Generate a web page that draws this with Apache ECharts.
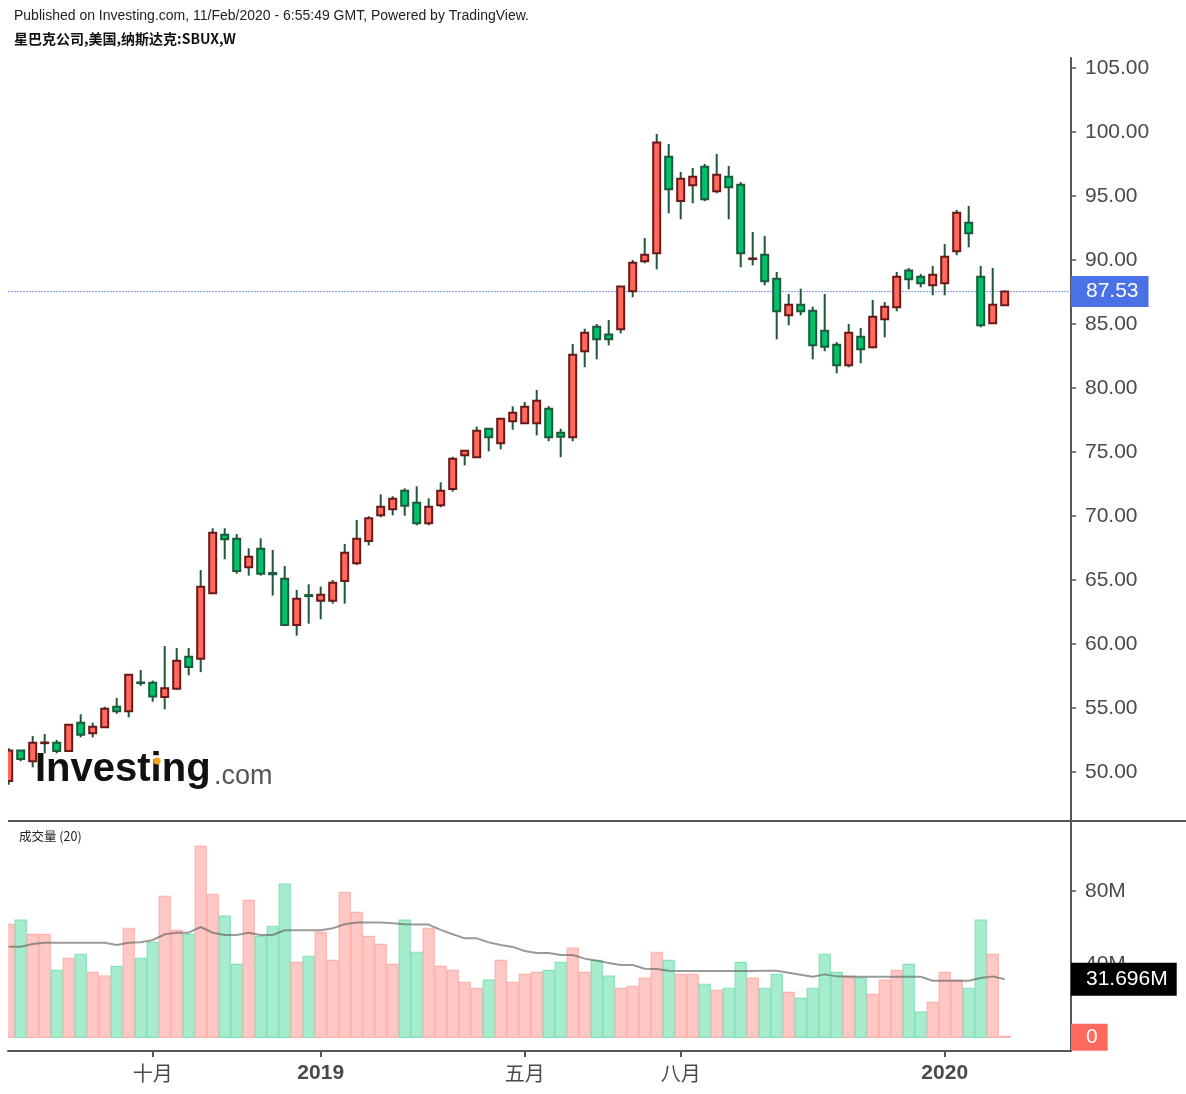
<!DOCTYPE html>
<html>
<head>
<meta charset="utf-8">
<script src="https://cdn.jsdelivr.net/npm/echarts@6/dist/echarts.min.js"></script>
<style>
  html, body { margin: 0; padding: 0; background: #fff; }
  #chart { width: 1186px; height: 1094px; }
</style>
</head>
<body>
<div id="chart"></div>
<script>
// SBUX weekly bars, 9 Jul 2018 .. 10 Feb 2020 (one entry per week)
const openP = [49.3, 51.67, 50.84, 52.26, 52.29, 51.64, 53.85, 53.02, 53.49, 55.10,
  54.74, 56.99, 56.98, 55.86, 56.51, 59.01, 58.85, 63.96, 68.54, 68.23,
  65.99, 67.45, 65.55, 65.10, 61.48, 63.82, 63.38, 63.38, 64.92, 66.30,
  68.05, 70.05, 70.52, 71.98, 71.04, 69.43, 70.83, 72.11, 74.74, 74.59,
  76.82, 75.68, 77.40, 77.24, 77.24, 78.38, 76.51, 76.15, 82.87, 84.79,
  84.17, 84.58, 87.55, 89.90, 90.52, 98.07, 94.61, 95.84, 97.29, 95.37,
  96.51, 95.88, 90.08, 90.41, 88.54, 85.68, 86.51, 86.04, 84.48, 83.38,
  81.77, 84.01, 83.18, 85.37, 86.30, 89.17, 88.70, 88.02, 88.18, 90.68,
  92.91, 88.70, 85.05, 86.46];
const closeP = [51.67, 51.02, 52.29, 52.3, 51.64, 53.70, 52.91, 53.54, 54.95, 54.74,
  57.60, 56.96, 55.89, 56.54, 58.70, 58.20, 64.48, 68.70, 68.18, 65.70,
  66.82, 65.49, 65.45, 61.48, 63.54, 63.74, 63.85, 64.79, 67.13, 68.23,
  69.82, 70.73, 71.35, 70.80, 69.43, 70.73, 71.98, 74.48, 75.10, 76.66,
  76.15, 77.60, 78.07, 78.54, 79.01, 76.15, 76.20, 82.60, 84.32, 83.80,
  83.80, 87.92, 89.79, 90.41, 99.17, 95.52, 96.35, 96.51, 94.74, 96.66,
  95.68, 90.52, 90.12, 88.33, 85.99, 86.51, 85.99, 83.33, 83.23, 81.77,
  84.32, 83.02, 85.57, 86.35, 88.70, 88.49, 88.18, 88.85, 90.26, 93.70,
  92.09, 84.90, 86.51, 87.53];
const highP = [51.85, 51.7, 52.81, 52.97, 52.5, 53.75, 54.51, 53.85, 55.1, 55.78,
  57.65, 57.97, 57.14, 59.84, 59.69, 59.69, 65.78, 69.04, 69.04, 68.59,
  67.48, 68.26, 67.34, 66.09, 64.22, 64.66, 64.48, 65.0, 67.81, 69.69,
  69.98, 71.70, 71.54, 72.16, 72.32, 71.38, 72.63, 74.63, 75.15, 76.98,
  76.85, 77.65, 78.57, 78.91, 79.84, 78.59, 76.82, 83.44, 84.63, 85.0,
  85.31, 87.95, 90.0, 91.72, 99.84, 99.06, 96.88, 97.19, 97.5, 98.28,
  97.34, 96.09, 92.19, 91.88, 89.06, 87.34, 87.76, 86.35, 87.34, 83.59,
  85.0, 84.69, 86.88, 86.72, 89.06, 89.38, 88.91, 89.53, 91.25, 93.91,
  94.22, 89.53, 89.38, 87.6];
const lowP = [49.0, 50.84, 50.37, 51.46, 51.46, 51.6, 52.71, 52.71, 53.45, 54.55,
  54.27, 56.74, 55.49, 54.9, 56.45, 57.55, 57.8, 63.9, 66.62, 65.49,
  65.34, 65.34, 63.78, 61.4, 60.65, 61.59, 61.93, 63.15, 63.15, 66.17,
  67.7, 69.90, 70.05, 70.02, 69.27, 69.27, 70.68, 71.90, 73.96, 74.55,
  75.05, 75.21, 76.74, 77.2, 76.30, 75.84, 74.59, 75.84, 81.62, 82.24,
  83.33, 84.27, 87.09, 89.74, 89.27, 93.65, 93.18, 94.43, 94.59, 95.21,
  93.18, 89.43, 89.58, 88.02, 83.80, 84.90, 85.68, 82.24, 82.87, 81.15,
  81.62, 81.93, 83.1, 83.96, 85.99, 87.71, 87.87, 87.24, 87.24, 90.37,
  90.99, 84.74, 85.0, 86.46];
// weekly volume, millions
const volume = [61.8, 64.0, 56.3, 56.3, 36.6, 43.2, 45.4, 35.5, 33.4, 38.8,
  59.6, 43.2, 51.9, 77.1, 58.5, 56.3, 104.4, 78.2, 66.2, 39.9,
  74.9, 55.2, 60.7, 83.7, 41.0, 44.3, 57.4, 42.1, 79.3, 68.3,
  55.2, 50.8, 39.9, 64.0, 46.5, 59.6, 38.8, 36.6, 30.1, 26.8,
  31.2, 42.1, 30.1, 34.4, 35.5, 36.6, 41.0, 48.7, 35.5, 42.1,
  33.4, 26.8, 27.9, 32.3, 46.5, 42.1, 34.4, 34.4, 29.0, 25.7,
  26.8, 41.0, 32.3, 26.8, 34.4, 24.6, 21.3, 26.8, 45.4, 35.5,
  33.4, 32.3, 23.5, 31.2, 36.6, 39.9, 13.7, 19.1, 35.5, 31.2,
  26.8, 64.0, 45.4, 0.5];
// 20-week volume average as drawn
const volMA = [49.5, 49.5, 51.0, 51.7, 51.7, 51.7, 51.7, 51.7, 51.7, 50.5,
  51.7, 51.9, 53.2, 56.3, 57.2, 57.2, 60.3, 57.2, 55.9, 55.9,
  57.2, 55.9, 55.9, 58.5, 58.5, 58.5, 58.5, 59.6, 61.8, 62.7,
  62.7, 62.7, 62.4, 61.8, 61.6, 61.6, 58.7, 56.3, 54.1, 54.1,
  51.9, 50.5, 49.4, 47.2, 46.1, 46.1, 45.0, 45.0, 43.0, 41.9,
  40.6, 39.5, 39.5, 37.5, 37.3, 36.4, 36.2, 36.2, 36.2, 36.2,
  36.2, 36.2, 36.2, 36.4, 36.4, 35.3, 34.2, 33.1, 34.4, 33.3,
  33.1, 33.1, 33.1, 33.1, 33.1, 33.1, 33.1, 30.9, 30.9, 30.9,
  30.9, 32.4, 33.3, 31.7];
const lastMA = 31.696;

const tickIdx = [12, 26, 43, 56, 78];
const tickText = ['十月', '2019', '五月', '八月', '2020'];

const RED = '#ff695e', RED_EDGE = '#661b19';
const GREEN = '#00c26d', GREEN_EDGE = '#1e5a3a';

const lastClose = closeP[closeP.length - 1];
const xMin = -0.058, xMax = 88.525;

const candleData = openP.map((o, i) => [i, o, closeP[i], lowP[i], highP[i]]);
const volData = volume.map((v, i) => [i, v, closeP[i] >= openP[i] ? 1 : 0]);
const maData = volMA.map((v, i) => [i, v]);

function renderCandle(params, api) {
  const i = api.value(0), o = api.value(1), c = api.value(2);
  const up = c >= o;
  const top = api.coord([i, Math.max(o, c)]);
  const bot = api.coord([i, Math.min(o, c)]);
  const hi = api.coord([i, api.value(4)]);
  const lo = api.coord([i, api.value(3)]);
  const w = 7;
  return {
    type: 'group',
    children: [
      { type: 'line', shape: { x1: hi[0], y1: hi[1], x2: lo[0], y2: lo[1] },
        style: { stroke: GREEN_EDGE, lineWidth: 2 } },
      { type: 'rect', shape: { x: top[0] - w / 2, y: top[1], width: w, height: Math.max(bot[1] - top[1], 0.6) },
        style: { fill: up ? RED : GREEN, stroke: up ? RED_EDGE : GREEN_EDGE, lineWidth: 2 } }
    ]
  };
}

function renderVol(params, api) {
  const i = api.value(0);
  const up = api.value(2) === 1;
  const t = api.coord([i, api.value(1)]);
  const b = api.coord([i, 0]);
  return {
    type: 'rect',
    shape: { x: t[0] - 5.5, y: t[1], width: 11, height: b[1] - t[1] },
    style: { fill: up ? '#ffc8c4' : '#a6ecce', stroke: up ? '#ffb0aa' : '#82e1b7', lineWidth: 1.2 }
  };
}

const axisFont = { color: '#4a4a4a', fontSize: 21, fontFamily: 'Liberation Sans, Arial, sans-serif' };
const boxLabel = { show: true, position: 'end', distance: 0, color: '#fff', fontSize: 21,
  fontFamily: 'Liberation Sans, Arial, sans-serif' };

const chart = echarts.init(document.getElementById('chart'));
chart.setOption({
  animation: false,
  backgroundColor: '#fff',
  grid: [
    { left: 8, top: 58, width: 1063, height: 762 },
    { left: 8, top: 822, width: 1063, height: 229 }
  ],
  xAxis: [
    { type: 'value', gridIndex: 0, min: xMin, max: xMax, show: false },
    {
      type: 'value', gridIndex: 1, min: xMin, max: xMax, position: 'bottom',
      splitLine: { show: false },
      axisLine: { show: true, onZero: false, lineStyle: { color: '#555', width: 2 } },
      axisTick: { show: true, customValues: tickIdx, length: 6, lineStyle: { color: '#555', width: 2 } },
      axisLabel: {
        customValues: tickIdx, margin: 12, color: '#4a4a4a', fontSize: 20,
        fontFamily: 'Noto Sans CJK SC, Liberation Sans, sans-serif',
        formatter: v => {
          const t = tickText[tickIdx.indexOf(Math.round(v))] || '';
          return /^\d+$/.test(t) ? '{b|' + t + '}' : t;
        },
        rich: { b: { fontWeight: 'bold', fontSize: 21, color: '#4a4a4a', fontFamily: 'Liberation Sans, Arial, sans-serif' } }
      }
    }
  ],
  yAxis: [
    {
      type: 'value', gridIndex: 0, position: 'right', min: 46.25, max: 105.78,
      splitNumber: 12, minInterval: 5, maxInterval: 5,
      splitLine: { show: false },
      axisLine: { show: true, onZero: false, lineStyle: { color: '#555', width: 2 } },
      axisTick: { show: true, length: 5, lineStyle: { color: '#555', width: 1.5 } },
      axisLabel: Object.assign({ margin: 14, showMinLabel: false, showMaxLabel: false,
        formatter: v => v.toFixed(2) }, axisFont)
    },
    {
      type: 'value', gridIndex: 1, position: 'right', min: -7.5, max: 117.7,
      splitNumber: 3, minInterval: 40, maxInterval: 40,
      splitLine: { show: false },
      axisLine: { show: true, onZero: false, lineStyle: { color: '#555', width: 2 } },
      axisTick: { show: true, length: 5, lineStyle: { color: '#555', width: 1.5 } },
      axisLabel: Object.assign({ margin: 14, showMinLabel: false, showMaxLabel: false,
        formatter: v => v === 0 ? '0' : v + 'M' }, axisFont)
    }
  ],
  series: [
    {
      // last price guide line
      type: 'line', xAxisIndex: 0, yAxisIndex: 0, z: 1, silent: true,
      data: [[xMin, lastClose], [xMax, lastClose]], showSymbol: false,
      lineStyle: { color: '#7f95f5', type: [2, 1], width: 1 }
    },
    {
      type: 'custom', name: 'SBUX', xAxisIndex: 0, yAxisIndex: 0, clip: true,
      data: candleData, encode: { x: 0, y: [1, 2, 3, 4] },
      renderItem: renderCandle,
      markLine: {
        silent: true, symbol: 'none', animation: false,
        lineStyle: { color: 'rgba(0,0,0,0)', width: 0 },
        label: Object.assign({}, boxLabel, {
          formatter: lastClose.toFixed(2), backgroundColor: '#4a72e6', padding: [5, 10, 5, 15]
        }),
        data: [{ yAxis: lastClose }]
      }
    },
    {
      type: 'custom', name: '成交量', xAxisIndex: 1, yAxisIndex: 1, clip: true,
      data: volData, encode: { x: 0, y: 1 },
      renderItem: renderVol
    },
    {
      type: 'line', name: 'MA20', xAxisIndex: 1, yAxisIndex: 1, data: maData,
      showSymbol: false, smooth: false, z: 3,
      lineStyle: { color: 'rgba(100,100,100,0.65)', width: 2 },
      markLine: {
        silent: true, symbol: 'none', animation: false,
        lineStyle: { color: 'rgba(0,0,0,0)', width: 0 },
        label: boxLabel,
        data: [
          { yAxis: lastMA, label: { formatter: lastMA + 'M', backgroundColor: '#000', padding: [6, 9, 6, 15] } },
          { yAxis: 0, label: { formatter: '0', backgroundColor: '#ff695e', padding: [3, 10, 3, 15] } }
        ]
      }
    }
  ],
  graphic: [
    { type: 'text', left: 14, top: 9, z: 10,
      style: { text: 'Published on Investing.com, 11/Feb/2020 - 6:55:49 GMT, Powered by TradingView.',
        fill: '#222', font: '14px Liberation Sans, Arial, sans-serif' } },
    { type: 'text', left: 14, top: 32, z: 10,
      style: { text: '星巴克公司,美国,纳斯达克:SBUX,W', fill: '#111',
        font: 'bold 14px Noto Sans CJK SC, sans-serif' } },
    { type: 'text', left: 19, top: 830, z: 10,
      style: { text: '成交量 (20)', fill: '#222', font: '12.5px Noto Sans CJK SC, sans-serif' } },
    { type: 'line', z: 10, shape: { x1: 8, y1: 821, x2: 1186, y2: 821 },
      style: { stroke: '#555', lineWidth: 2 } },
    { type: 'text', left: 35, top: 750, z: 20,
      style: { text: 'Investing', fill: '#111', font: 'bold 40px Liberation Sans, Arial, sans-serif' } },
    { type: 'circle', z: 21, shape: { cx: 157, cy: 761, r: 3.6 }, style: { fill: '#f7a21b' } },
    { type: 'text', left: 214, top: 763, z: 20,
      style: { text: '.com', fill: '#555', font: '27px Liberation Sans, Arial, sans-serif' } }
  ]
});
</script>
</body>
</html>
